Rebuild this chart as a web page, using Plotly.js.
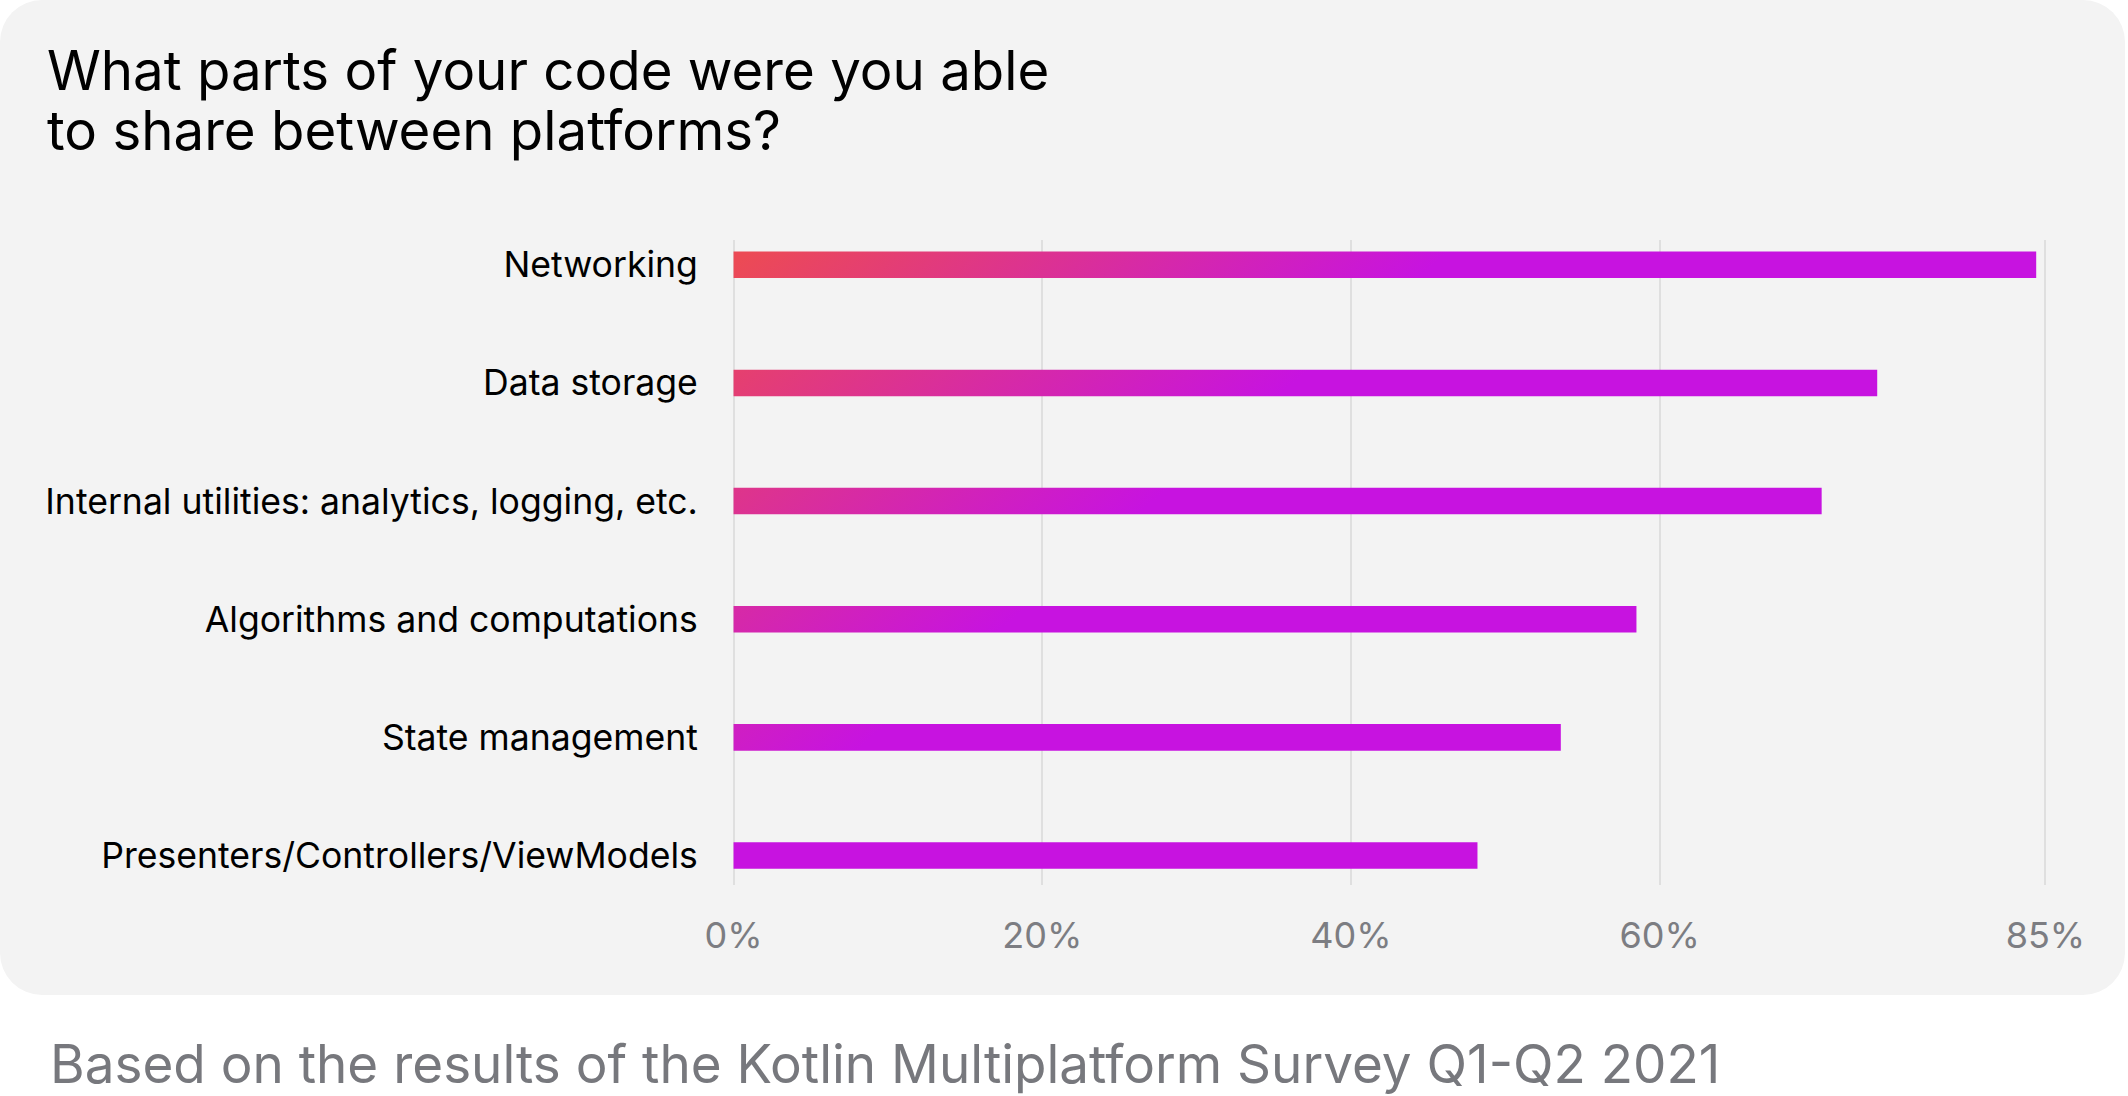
<!DOCTYPE html>
<html>
<head>
<meta charset="utf-8">
<script src="https://cdn.plot.ly/plotly-3.0.1.min.js"></script>
<style>
  body { margin: 0; background: #ffffff; }
  #wrap { position: relative; width: 2128px; height: 1096px; }
  #card { position: absolute; left: 0; top: 0; width: 2125px; height: 995px; border-radius: 42px; background: #f3f3f3; }
  #chart { position: absolute; left: 0; top: 0; width: 2128px; height: 1096px; }
</style>
</head>
<body>
<div id="wrap">
  <div id="card"></div>
  <div id="chart"></div>
</div>
<script>
// survey answers, top to bottom
const categories = [
    'Networking',
    'Data storage',
    'Internal utilities: analytics, logging, etc.',
    'Algorithms and computations',
    'State management',
    'Presenters/Controllers/ViewModels'
];
const shares = [84.4, 74.1, 70.5, 58.5, 53.6, 48.2];
const tickValues = [0, 20, 40, 60, 85];
const tickLabels = ['0%', '20%', '40%', '60%', '85%'];

const titleLines = ['What parts of your code were you able', 'to share between platforms?'];
const footnote = 'Based on the results of the Kotlin Multiplatform Survey Q1-Q2 2021';

// page geometry (px)
const W = 2128, H = 1096;
const margin = { l: 731.5, r: 80.5, t: 240, b: 211 };
const plotW = W - margin.l - margin.r;
const plotH = H - margin.t - margin.b;
const px2x = px => (px - margin.l) / plotW;
const px2y = py => (H - margin.b - py) / plotH;

const FONT = 'Inter, "Noto Sans", sans-serif';

const data = [{
    type: 'bar',
    orientation: 'h',
    y: categories,
    x: shares,
    width: 0.225,
    marker: { color: '#c713e0', line: { width: 0 } },
    hoverinfo: 'skip'
}];

const layout = {
    width: W,
    height: H,
    margin: margin,
    paper_bgcolor: 'rgba(0,0,0,0)',
    plot_bgcolor: 'rgba(0,0,0,0)',
    showlegend: false,
    font: { family: FONT, color: '#000000' },
    xaxis: {
        // a little slack so the 0% and 85% grid lines are kept
        range: [-0.1, 85.1],
        tickvals: tickValues,
        ticktext: tickLabels,
        showgrid: true,
        gridcolor: '#dfdfdf',
        gridwidth: 2,
        zeroline: false,
        showline: false,
        ticks: 'outside',
        ticklen: 19,
        tickcolor: 'rgba(0,0,0,0)',
        tickfont: { family: FONT, size: 36, color: '#7c7d82' },
        fixedrange: true
    },
    yaxis: {
        type: 'category',
        categoryarray: categories,
        range: [5.25, -0.21],
        showgrid: false,
        zeroline: false,
        showline: false,
        ticks: 'outside',
        ticklen: 26,
        tickcolor: 'rgba(0,0,0,0)',
        tickfont: { family: FONT, size: 35.6, color: '#000000' },
        fixedrange: true
    },
    annotations: [
        {
            text: titleLines[0], xref: 'paper', yref: 'paper',
            x: px2x(44), y: px2y(70), xanchor: 'left', yanchor: 'middle',
            showarrow: false, font: { family: FONT, size: 54.6, color: '#000000' }
        },
        {
            text: titleLines[1], xref: 'paper', yref: 'paper',
            x: px2x(44), y: px2y(130), xanchor: 'left', yanchor: 'middle',
            showarrow: false, font: { family: FONT, size: 54.6, color: '#000000' }
        },
        {
            text: footnote, xref: 'paper', yref: 'paper',
            x: px2x(47), y: px2y(1064), xanchor: 'left', yanchor: 'middle',
            showarrow: false, font: { family: FONT, size: 53, color: '#77787d' }
        }
    ]
};

Plotly.newPlot('chart', data, layout, { staticPlot: true }).then(gd => {
    // bars share one diagonal red -> magenta gradient
    const xa = gd._fullLayout.xaxis;
    const ya = gd._fullLayout.yaxis;
    const ns = 'http://www.w3.org/2000/svg';
    const svg = gd.querySelector('.main-svg');
    let defs = svg.querySelector('defs');
    if (!defs) {
        defs = document.createElementNS(ns, 'defs');
        svg.insertBefore(defs, svg.firstChild);
    }
    const grad = document.createElementNS(ns, 'linearGradient');
    grad.setAttribute('id', 'barGrad');
    grad.setAttribute('gradientUnits', 'userSpaceOnUse');
    grad.setAttribute('x1', xa.l2p(0));
    grad.setAttribute('y1', ya.l2p(0));
    grad.setAttribute('x2', xa.l2p(18.8));
    grad.setAttribute('y2', ya.l2p(2.92));
    [['0', '#ec4a55'], ['1', '#c713e0']].forEach(([off, col]) => {
        const s = document.createElementNS(ns, 'stop');
        s.setAttribute('offset', off);
        s.setAttribute('stop-color', col);
        grad.appendChild(s);
    });
    defs.appendChild(grad);
    gd.querySelectorAll('.bars .point path').forEach(p => {
        p.style.fill = 'url(#barGrad)';
    });
});
</script>
</body>
</html>
